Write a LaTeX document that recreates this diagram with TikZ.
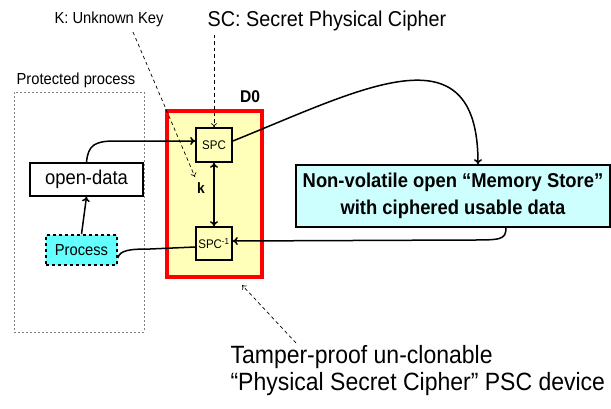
\documentclass[tikz,border=0pt]{standalone}
\usepackage{fontspec}
\setmainfont{Liberation Sans}[FakeStretch=0.92]
\usetikzlibrary{arrows.meta}

\definecolor{pscyellow}{RGB}{255,255,185}
\definecolor{proccyan}{RGB}{100,255,255}
\definecolor{storecyan}{RGB}{205,255,255}

\begin{document}
\begin{tikzpicture}[x=1pt,y=-1pt,
    box/.style={draw,line width=1.6pt,inner sep=0pt},
    tip/.style={-{To[length=5pt,width=8pt]}},
    hint/.style={dash pattern=on 3.5pt off 3pt,line width=0.7pt,-{To[length=4pt,width=6pt]}},
    wire/.style={line width=1.5pt}]
    \useasboundingbox (0,0) rectangle (611,408);

    % labels on top
    \node[font=\fontsize{16}{18}\selectfont] (keylbl) at (109,19) {K: Unknown Key};
    \node[font=\fontsize{21.5}{24}\selectfont] (sclbl) at (327,21) {SC: Secret Physical Cipher};
    \node[font=\fontsize{16}{18}\selectfont] (protlbl) at (76,80) {Protected process};

    % protected area
    \node[draw=gray,dash pattern=on 2pt off 2pt,minimum width=130,minimum height=240] (prot) at (79,212) {};

    % the PSC device D0
    \node[draw=red,line width=4pt,fill=pscyellow,minimum width=95,minimum height=166] (psc) at (214.5,194) {};
    \node[font=\bfseries\fontsize{17}{19}\selectfont] (dzero) at (250,97) {D0};
    \node[box,fill=pscyellow,minimum width=36,minimum height=34,font=\fontsize{12.5}{14}\selectfont] (spc) at (214,145) {SPC};
    \node[box,fill=pscyellow,minimum width=36,minimum height=33,font=\fontsize{12.5}{14}\selectfont] (spcinv) at (214,243.5) {SPC\textsuperscript{-1}};
    \node[font=\bfseries\fontsize{15}{17}\selectfont] (k) at (201,188) {k};

    % process side
    \node[box,fill=white,minimum width=113,minimum height=33,font=\fontsize{20}{22}\selectfont] (opendata) at (86.5,179.5) {open-data};
    \node[box,dashed,fill=proccyan,minimum width=71,minimum height=30,font=\fontsize{16}{18}\selectfont] (process) at (81.5,250) {Process};

    % memory store
    \node[box,fill=storecyan,minimum width=314,minimum height=62,align=center,
          font=\bfseries\fontsize{20}{27}\selectfont] (store) at (453,196)
          {Non-volatile open \textquotedblleft Memory Store\textquotedblright\\ with ciphered usable data};

    % device caption
    \node[anchor=west,align=left,font=\fontsize{25}{27}\selectfont] (caption) at (227,371)
          {Tamper-proof un-clonable\\ \textquotedblleft Physical Secret Cipher\textquotedblright\ PSC device};

    % connectors
    \draw[wire,tip] (process.north) -- (opendata.south);
    \draw[wire,tip] (opendata.north) .. controls (88,145) and (95,141) .. (115,141) -- (spc.west |- 0,141);
    \draw[wire,{To[length=5pt,width=8pt]}-{To[length=5pt,width=8pt]}] (spc.south) -- (spcinv.north);
    \draw[wire,tip] (spc.east |- 0,141) .. controls (360,90) and (478,25) .. (store.north -| 478,0);
    \draw[wire,tip] (store.south -| 506,0) .. controls (506,240) and (500,240) .. (470,240) -- (spcinv.east |- 0,241);
    \draw[wire] (process.east |- 0,258) .. controls (120,250) and (130,249) .. (150,249) -- (spcinv.west |- 0,247);

    % hint arrows
    \coordinate (keyend) at (133,32);
    \coordinate (capend) at (296,343);
    \coordinate (pscend) at (242,285);
    \draw[hint] (keyend) -- (195,177);
    \draw[hint] (sclbl.south -| spc.north) -- (spc.north);
    \draw[hint] (capend) -- (pscend);
\end{tikzpicture}
\end{document}
